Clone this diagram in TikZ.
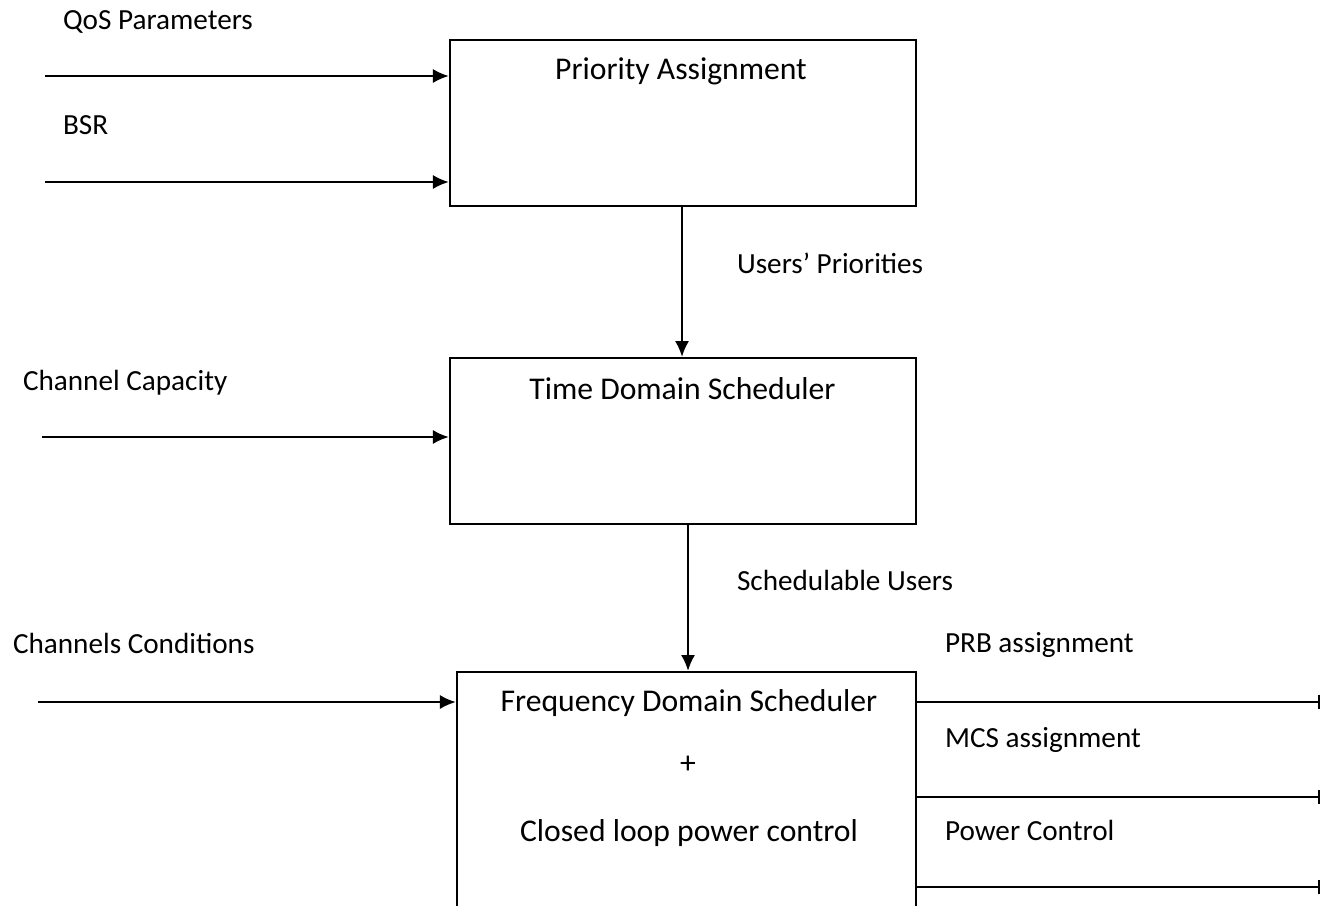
\documentclass[tikz,border=0pt]{standalone}
\usepackage{fontspec}
\setmainfont{Carlito}
\usetikzlibrary{arrows.meta, positioning, calc}

\begin{document}
\begin{tikzpicture}[x=0.01cm, y=-0.01cm, line width=0.6pt, >={Latex[length=4.5pt, width=4pt]}]
        \useasboundingbox (0,0) rectangle (1322,905);
        \clip (0,0) rectangle (1322,905);

        \tikzstyle{blk} = [draw, rectangle, minimum width=4.66cm, inner sep=0pt];
        \tikzstyle{lbl} = [anchor=west, inner sep=0pt, font=\fontsize{8.3}{10}\selectfont];
        \tikzstyle{txt} = [inner sep=0pt, font=\fontsize{9}{11}\selectfont];

        % the three blocks, the last one runs off the page
        \node [blk, minimum height=1.66cm] (pa) at (683, 123) { };
        \node [blk, minimum height=1.66cm] (tds) at (683, 441) { };
        \node [blk, minimum width=4.59cm, minimum height=2.6cm] (fds) at (686.5, 802) { };

        \node [txt] (pa-t) at (681, 71) {Priority Assignment};
        \node [txt] (tds-t) at (682.5, 389) {Time Domain Scheduler};
        \node [txt] (fds-t1) at (689, 703) {Frequency Domain Scheduler};
        \node [txt] (fds-t2) at (688, 765) {+};
        \node [txt] (fds-t3) at (689, 833) {Closed loop power control};

        % inputs
        \coordinate (qos) at (45, 76);
        \coordinate (bsr) at (45, 182);
        \coordinate (cap) at (42, 437);
        \coordinate (cc) at (38, 702);

        \draw [->] (qos) -- (qos -| pa.west);
        \draw [->] (bsr) -- (bsr -| pa.west);
        \draw [->] (cap) -- (cap -| tds.west);
        \draw [->] (cc) -- (cc -| fds.west);

        \node [lbl] (qos-l) at (62, 22) {QoS Parameters};
        \node [lbl] (bsr-l) at (62, 125) {BSR};
        \node [lbl] (cap-l) at (22, 383) {Channel Capacity};
        \node [lbl] (cc-l) at (12, 643) {Channels Conditions};

        % between the blocks
        \draw [->] ($(pa.south) + (-1, 0)$) -- ($(tds.north) + (-1, 0)$);
        \draw [->] ($(tds.south -| fds.north) + (1.5, 0)$) -- ($(fds.north) + (1.5, 0)$);

        \node [lbl] (up-l) at (736, 263) {Users’ Priorities};
        \node [lbl] (su-l) at (736, 580) {Schedulable Users};

        % outputs
        \foreach \y/\na/\txt in {702/prb/PRB assignment, 797/mcs/MCS assignment, 887/pc/Power Control}{
            \coordinate (\na) at (1320, \y);
            \draw [-{Bar[width=4pt]}] (fds.east |- \na) -- (\na);
            \node [lbl] (\na-l) at (944, \y - 57) {\txt};
        }
    \end{tikzpicture}
\end{document}
